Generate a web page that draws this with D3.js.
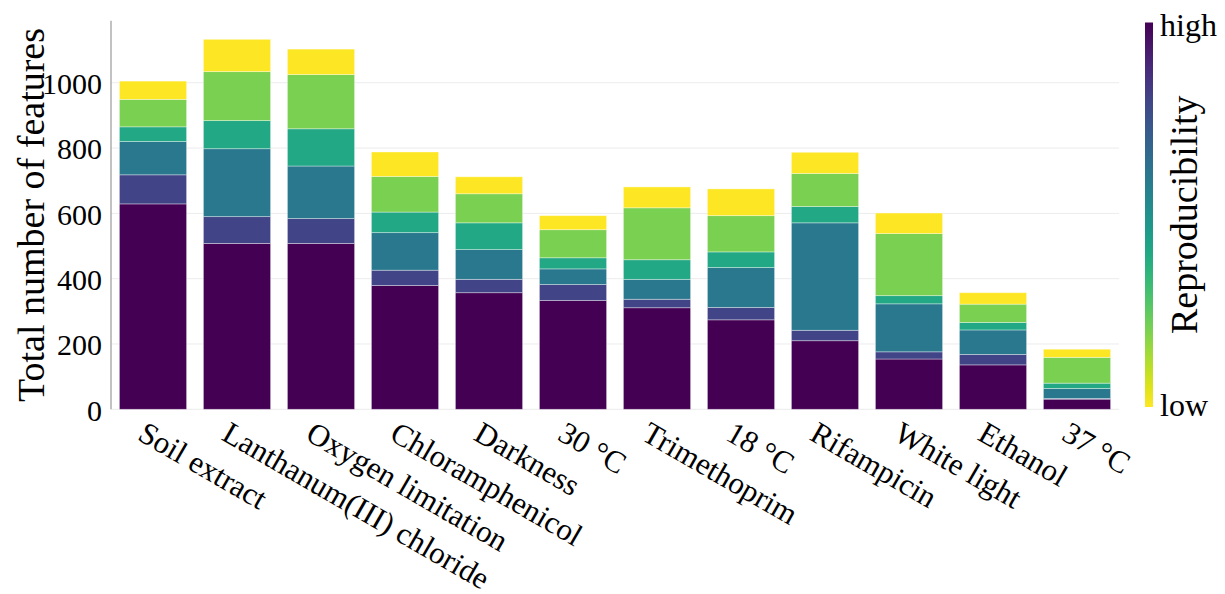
<!DOCTYPE html>
<html>
<head>
<meta charset="utf-8">
<script src="https://cdn.jsdelivr.net/npm/d3@7"></script>
<style>
  html, body { margin: 0; padding: 0; background: #fff; }
  svg { display: block; font-family: "Liberation Serif", "Times New Roman", serif; }
</style>
</head>
<body>
<svg id="chart" width="1225" height="594"></svg>
<script>
// Conditions, ordered by total feature count as drawn left to right
const categories = ["Soil extract", "Lanthanum(III) chloride", "Oxygen limitation", "Chloramphenicol",
  "Darkness", "30 °C", "Trimethoprim", "18 °C", "Rifampicin", "White light", "Ethanol", "37 °C"];

// Feature counts per reproducibility level (level1 = highest, level6 = lowest)
const level1 = [629, 508, 508, 379, 357, 333, 311, 274, 210, 154, 136, 31];
const level2 = [89, 82, 76, 47, 41, 49, 26, 38, 32, 22, 32, 2];
const level3 = [102, 208, 161, 115, 91, 48, 61, 122, 329, 147, 75, 31];
const level4 = [45, 86, 114, 63, 82, 34, 60, 48, 50, 25, 23, 16];
const level5 = [84, 150, 166, 109, 89, 86, 159, 111, 101, 190, 56, 79];
const level6 = [56, 99, 78, 75, 52, 43, 64, 82, 65, 63, 35, 25];

const yTicks = [0, 200, 400, 600, 800, 1000];
const levelNames = ["level1", "level2", "level3", "level4", "level5", "level6"];
const levelValues = [level1, level2, level3, level4, level5, level6];

const FONT = "Liberation Serif, Times New Roman, serif";
const svg = d3.select("#chart");
const plot = { left: 111, right: 1119, top: 20.7, bottom: 409.3 };

const x = d3.scaleBand().domain(categories).range([plot.left, plot.right])
  .paddingInner(0.2).paddingOuter(0.1);
const y = d3.scaleLinear().domain([0, 1190]).range([plot.bottom, plot.top]);
// viridis position per level: highest reproducibility is darkest
const color = d3.scaleOrdinal().domain(levelNames)
  .range(levelNames.map((_, i) => d3.interpolateViridis(i / (levelNames.length - 1))));

// Horizontal grid
svg.append("g").selectAll("line").data(yTicks).join("line")
  .attr("x1", plot.left).attr("x2", plot.right)
  .attr("y1", d => y(d)).attr("y2", d => y(d))
  .attr("stroke", "#ececec").attr("stroke-width", 1);

// Stacked bars
const rows = categories.map((c, i) => {
  const r = { category: c };
  levelNames.forEach((n, k) => { r[n] = levelValues[k][i]; });
  return r;
});
const stacked = d3.stack().keys(levelNames)(rows);

svg.append("g").selectAll("g").data(stacked).join("g")
  .attr("fill", d => color(d.key))
  .selectAll("rect").data(d => d).join("rect")
  .attr("x", d => x(d.data.category))
  .attr("width", x.bandwidth())
  .attr("y", d => y(d[1]))
  .attr("height", d => y(d[0]) - y(d[1]))
  .attr("stroke", "rgba(255,255,255,0.45)")
  .attr("stroke-width", 0.8);

// Left axis line
svg.append("line")
  .attr("x1", plot.left).attr("x2", plot.left)
  .attr("y1", plot.top).attr("y2", plot.bottom)
  .attr("stroke", "#999").attr("stroke-width", 1.2);

// Y tick labels
const yAxis = d3.axisLeft(y).tickValues(yTicks).tickFormat(d3.format("d"))
  .tickSize(0).tickPadding(9);
const gy = svg.append("g").attr("transform", `translate(${plot.left},0)`).call(yAxis);
gy.select(".domain").remove();
gy.selectAll("text")
  .attr("font-family", FONT)
  .attr("font-size", 30).attr("fill", "#000").attr("dy", "0.36em");

// X tick labels, rotated 30 degrees
const xAxis = d3.axisBottom(x).tickSize(0).tickPadding(0);
const gx = svg.append("g").attr("transform", `translate(0,${plot.bottom})`).call(xAxis);
gx.select(".domain").remove();
gx.selectAll("text")
  .attr("font-family", FONT)
  .attr("font-size", 31).attr("fill", "#000")
  .attr("text-anchor", "start")
  .attr("x", 0).attr("y", 0).attr("dy", "0.7em")
  .attr("transform", "translate(-6,11) rotate(30)");

// Y axis title
svg.append("text")
  .attr("transform", `translate(44,${(plot.top + plot.bottom) / 2}) rotate(-90)`)
  .attr("text-anchor", "middle")
  .attr("font-family", FONT)
  .attr("font-size", 38).attr("fill", "#000")
  .text("Total number of features");

// Colour bar
const defs = svg.append("defs");
const grad = defs.append("linearGradient").attr("id", "viridisBar")
  .attr("x1", "0").attr("y1", "1").attr("x2", "0").attr("y2", "0");
d3.range(0, 1.0001, 0.05).forEach(t => {
  grad.append("stop").attr("offset", t).attr("stop-color", d3.interpolateViridis(1 - t));
});
const cb = { x: 1145, w: 8, top: 22.5, bottom: 407 };
svg.append("rect")
  .attr("x", cb.x).attr("y", cb.top)
  .attr("width", cb.w).attr("height", cb.bottom - cb.top)
  .attr("fill", "url(#viridisBar)");

svg.append("text").attr("x", 1160).attr("y", 36)
  .attr("font-family", FONT)
  .attr("font-size", 32).attr("fill", "#000").text("high");
svg.append("text").attr("x", 1160).attr("y", 416)
  .attr("font-family", FONT)
  .attr("font-size", 32).attr("fill", "#000").text("low");
svg.append("text")
  .attr("transform", `translate(1197,${(cb.top + cb.bottom) / 2}) rotate(-90)`)
  .attr("text-anchor", "middle")
  .attr("font-family", FONT)
  .attr("font-size", 38).attr("fill", "#000")
  .text("Reproducibility");
</script>
</body>
</html>
